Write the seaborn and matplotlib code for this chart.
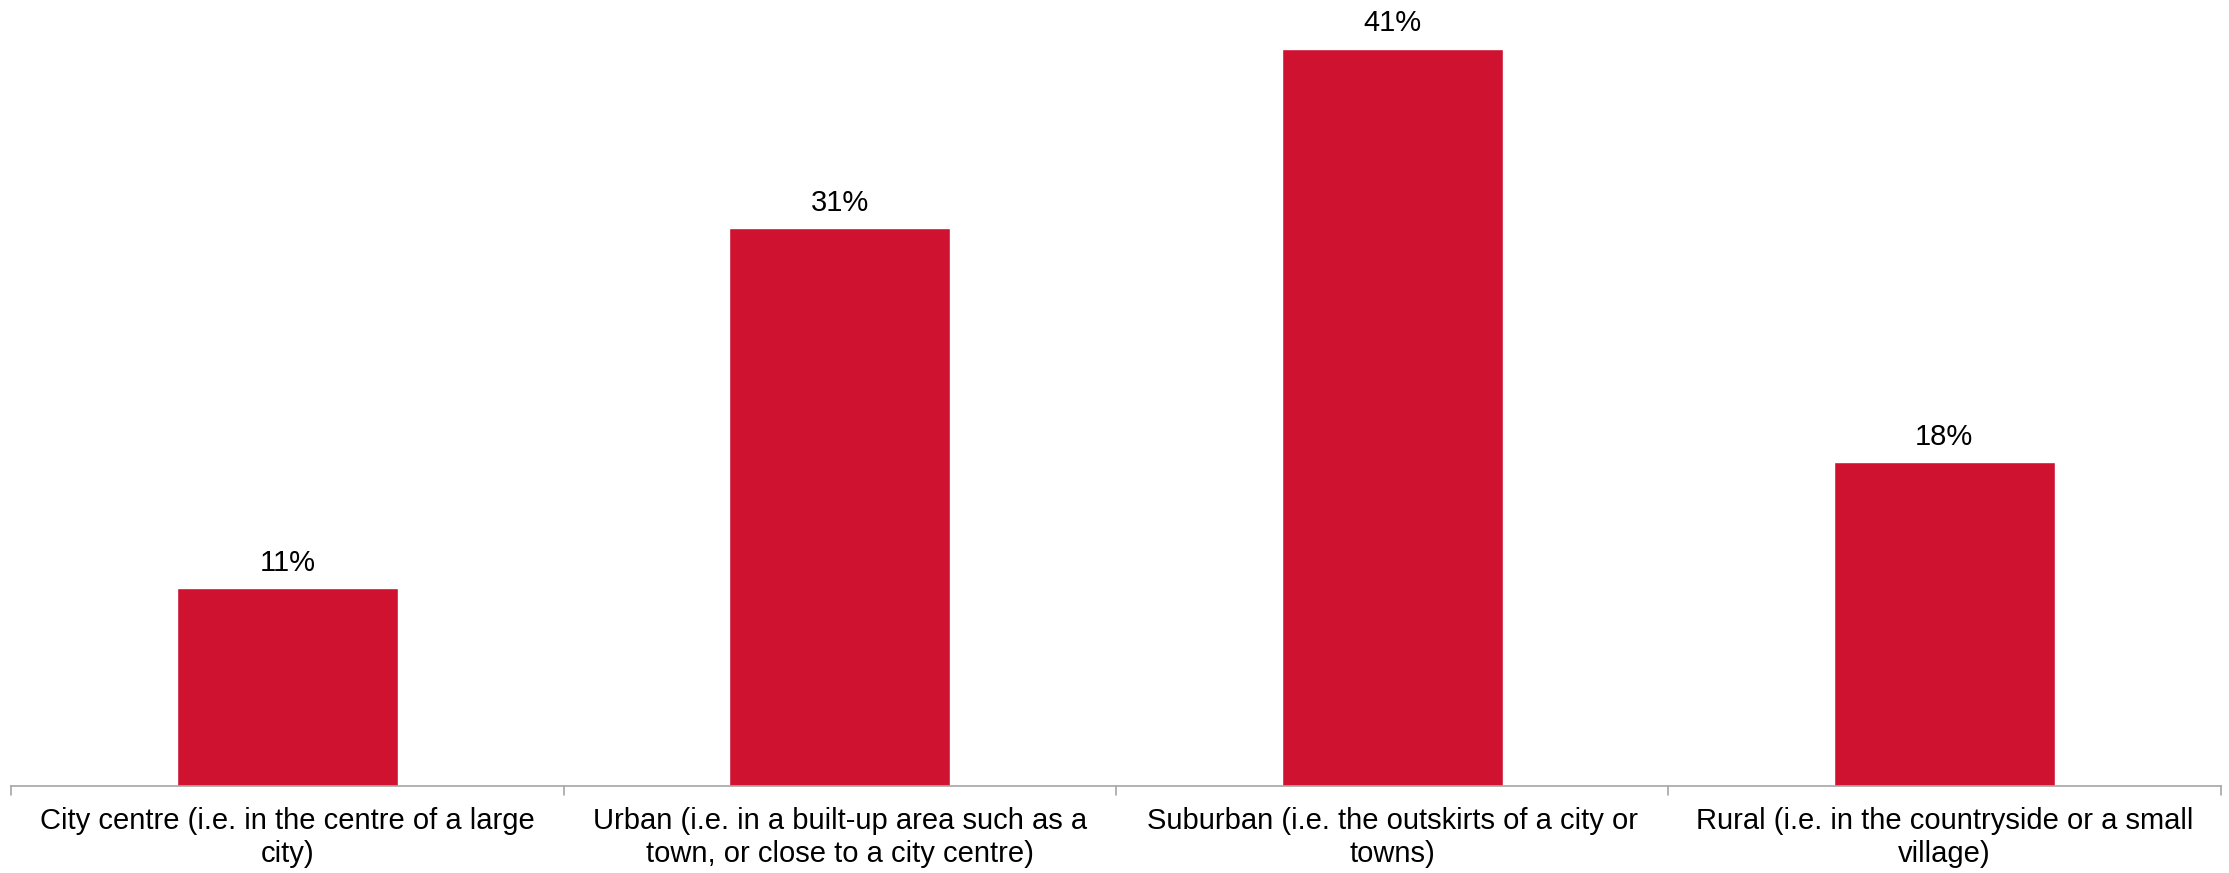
import matplotlib
matplotlib.use("Agg")
import matplotlib.pyplot as plt
import seaborn as sns
import pandas as pd

categories = [
    "City centre (i.e. in the centre of a large\ncity)",
    "Urban (i.e. in a built-up area such as a\ntown, or close to a city centre)",
    "Suburban (i.e. the outskirts of a city or\ntowns)",
    "Rural (i.e. in the countryside or a small\nvillage)",
]
shares = [11, 31, 41, 18]

sns.set_theme(style="white")
plt.rcParams["font.family"] = ["Liberation Sans", "DejaVu Sans"]

df = pd.DataFrame({"area": categories, "share": shares})

fig = plt.figure(figsize=(22.29, 8.73), dpi=100)
ax = fig.add_axes([11.4 / 2229, 87 / 873, (2220.5 - 11.4) / 2229, 786 / 873])

sns.barplot(data=df, x="area", y="share", color="#CE1230", width=0.4,
            saturation=1, ax=ax)

ax.set_ylim(0, 43.7)
ax.set_xlim(-0.5, len(categories) - 0.5)

for i, v in enumerate(shares):
    ax.annotate(f"{v}%", (i, v), xytext=(0, 8), textcoords="offset points",
                ha="center", va="bottom", fontsize=21, color="#000000")

for s in ["top", "right", "left"]:
    ax.spines[s].set_visible(False)
ax.spines["bottom"].set_color("#A6A6A6")
ax.spines["bottom"].set_linewidth(1.2)

ax.set_yticks([])
ax.set_xlabel("")
ax.set_ylabel("")
ax.set_xticks(range(len(categories)))
ax.set_xticklabels(categories, fontsize=21, color="#000000", linespacing=1.25)
ax.tick_params(axis="x", length=0, pad=15)
# boundary ticks between categories
for b in [-0.5, 0.5, 1.5, 2.5, 3.5]:
    ax.plot([b, b], [0, -0.5], color="#A6A6A6", lw=1.2, clip_on=False)

fig.savefig("out.png", dpi=100)
